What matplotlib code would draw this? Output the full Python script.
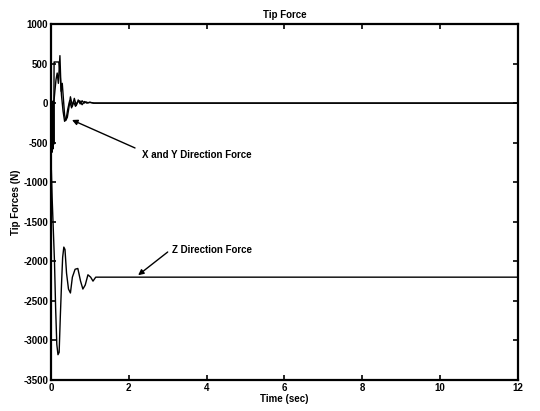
import matplotlib
matplotlib.use('Agg')
import matplotlib.pyplot as plt

plt.rcParams['font.family'] = ['Liberation Sans', 'DejaVu Sans']
plt.rcParams['font.weight'] = 'bold'
plt.rcParams['axes.unicode_minus'] = False

# Силы на конце (оценка по картинке)
t_x = [0, 0.01, 0.02, 0.03, 0.04, 0.05, 0.06, 0.07, 0.08, 0.10, 0.13, 0.16, 0.19, 0.23,
       0.26, 0.29, 0.32, 0.35, 0.38, 0.42, 0.46, 0.50, 0.55, 0.60, 0.65, 0.70, 0.75,
       0.80, 0.85, 0.90, 0.95, 1.00, 1.10, 12]
f_x = [0, -550, 20, -600, 10, -580, 30, -500, 40, 150, 300, 380, 250, 600,
       150, 250, 50, -150, -220, -180, -60, 80, -40, 60, -30, 40, -10,
       30, 0, 15, 5, 10, 0, 0]

t_y = [0, 0.01, 0.02, 0.03, 0.04, 0.05, 0.06, 0.07, 0.08, 0.10, 0.15, 0.20, 0.23,
       0.27, 0.31, 0.35, 0.39, 0.43, 0.48, 0.53, 0.58, 0.63, 0.68, 0.74, 0.80,
       0.86, 0.92, 1.00, 1.10, 12]
f_y = [0, -600, -50, -620, 0, -560, -20, -520, 520, 520, 520, 520, 400,
       100, -100, -230, -200, -80, 30, -60, 20, -40, 10, 30, -20,
       20, 0, 10, 0, 0]

t_z = [0, 0.01, 0.03, 0.06, 0.09, 0.12, 0.15, 0.18, 0.21, 0.24, 0.27, 0.30, 0.33,
       0.36, 0.40, 0.45, 0.50, 0.55, 0.62, 0.69, 0.76, 0.82, 0.88, 0.95, 1.02,
       1.08, 1.15, 12]
f_z = [-900, -850, -1200, -1600, -2000, -2600, -3050, -3180, -3150, -2700, -2300,
       -1950, -1820, -1850, -2150, -2350, -2400, -2200, -2100, -2090, -2250,
       -2350, -2300, -2170, -2200, -2250, -2200, -2200]

fig = plt.figure(figsize=(5.4, 4.11), dpi=100)
ax = fig.add_axes([0.0944, 0.0754, 0.8646, 0.8662])

ax.plot(t_x, f_x, color='black', lw=1.0)
ax.plot(t_y, f_y, color='black', lw=1.0)
ax.plot(t_z, f_z, color='black', lw=1.0)

ax.set_xlim(0, 12)
ax.set_ylim(-3500, 1000)
ax.set_xticks(range(0, 13, 2))
ax.set_yticks(range(-3500, 1001, 500))
ax.tick_params(direction='in', top=True, right=True, length=3.5, width=1.2,
               labelsize=7, pad=2)
for s in ax.spines.values():
    s.set_linewidth(1.6)

ax.set_title('Tip Force', fontsize=7, fontweight='bold', pad=4)
ax.set_xlabel('Time (sec)', fontsize=7, fontweight='bold', labelpad=1)
ax.set_ylabel('Tip Forces (N)', fontsize=7, fontweight='bold', labelpad=2)

arrow = dict(arrowstyle='-|>', color='black', lw=1.0, mutation_scale=8,
             shrinkA=0, shrinkB=0)
ax.annotate('', xy=(0.54, -213), xytext=(2.16, -567), arrowprops=arrow)
ax.text(2.33, -656, 'X and Y Direction Force', fontsize=7, fontweight='bold',
        va='center', ha='left')
ax.annotate('', xy=(2.24, -2175), xytext=(3.0, -1882), arrowprops=arrow)
ax.text(3.1, -1857, 'Z Direction Force', fontsize=7, fontweight='bold',
        va='center', ha='left')

fig.savefig('out.png', dpi=100)
plt.close(fig)
